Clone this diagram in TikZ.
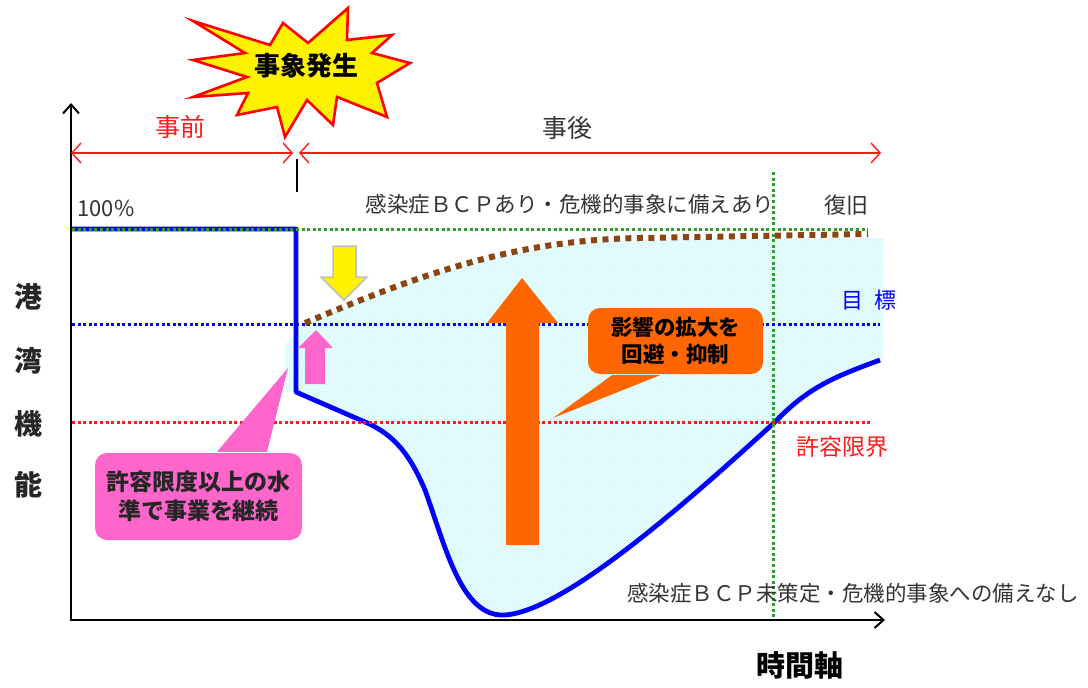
\documentclass[tikz,border=0pt]{standalone}
\usepackage{fontspec}
\setmainfont{Noto Sans CJK JP}
\usetikzlibrary{arrows.meta,patterns}
\definecolor{txtgray}{HTML}{333333}
\definecolor{dotgreen}{HTML}{2E9E2E}
\definecolor{bluel}{HTML}{0000FF}
\definecolor{redl}{HTML}{FF1A1A}
\definecolor{brownl}{HTML}{8B4513}
\definecolor{orangel}{HTML}{FF6600}
\definecolor{pinkl}{HTML}{FF66CC}
\definecolor{hatchbg}{HTML}{EEFFFF}
\definecolor{hatchfg}{HTML}{C8F4FA}
\begin{document}
\begin{tikzpicture}[x=1pt,y=-1pt,
  axisline/.style={line width=2.2pt,black,-{Straight Barb[length=9pt,width=16pt,line width=2pt]}},
  spanarrow/.style={line width=1.4pt,redl,{Straight Barb[length=9pt,width=20pt,line width=1.4pt]}-{Straight Barb[length=9pt,width=20pt,line width=1.4pt]}},
  dotline/.style={line width=3pt,dash pattern=on 3pt off 2.6pt},
  lbl/.style={inner sep=0pt,text=txtgray},
  callout/.style={rounded corners=12pt,inner sep=0pt,minimum width=#1},
]
\useasboundingbox (0,0) rectangle (1088,688);
\fill[white] (0,0) rectangle (1088,688);

% hatched region
\path[fill=hatchbg] (296,392) -- (365,422) .. controls (395,435) and (410,455) .. (425,490)
  .. controls (445,545) and (460,612) .. (500,615)
  .. controls (560,618) and (700,490) .. (775,422)
  .. controls (810,385) and (840,375) .. (883,359)
  -- (883,238) -- (640,240) .. controls (520,242) and (430,272) .. (305,323)
  -- (285,345) -- (285,390) -- cycle;
\path[pattern=north east lines,pattern color=hatchfg] (296,392) -- (365,422) .. controls (395,435) and (410,455) .. (425,490)
  .. controls (445,545) and (460,612) .. (500,615)
  .. controls (560,618) and (700,490) .. (775,422)
  .. controls (810,385) and (840,375) .. (883,359)
  -- (883,238) -- (640,240) .. controls (520,242) and (430,272) .. (305,323)
  -- (285,345) -- (285,390) -- cycle;

% coordinates
\coordinate (O) at (71,620);
\coordinate (ytop) at (71,103);
\coordinate (xend) at (885,620);
\coordinate (pa) at (71,153);
\coordinate (pb) at (293,153);
\coordinate (qa) at (299,153);
\coordinate (qb) at (881,153);
\coordinate (tk1) at (297,159);
\coordinate (tk2) at (297,192);

% blue curve (with plan)
\draw[bluel,line width=4.8pt,line join=round] (71,229) -- (296,229) -- (296,392) -- (365,422)
  .. controls (395,435) and (410,455) .. (425,490)
  .. controls (445,545) and (460,612) .. (500,615)
  .. controls (560,618) and (700,490) .. (775,422)
  .. controls (810,385) and (840,375) .. (880,360);

% dotted reference lines
\draw[dotline,dotgreen] (72,229) -- (868,229);
\draw[dotline,dotgreen] (773,172) -- (773,620);
\draw[dotline,bluel] (72,324) -- (880,324);
\draw[dotline,redl] (72,422) -- (870,422);

% brown dotted curve
\draw[brownl,line width=6pt,dash pattern=on 6pt off 5.5pt] (305,323) .. controls (430,270) and (520,240) .. (640,238) -- (868,234);

% axes
\draw[axisline] (O) -- (ytop);
\draw[axisline] ([xshift=-1.1pt]O) -- (xend);

% span arrows
\draw[spanarrow] (pa) -- (pb);
\draw[spanarrow] (qa) -- (qb);
\draw[black,line width=2.4pt] (tk1) -- (tk2);

% starburst
\draw[red,line width=2.6pt,fill=yellow,line join=miter]
 (193,21) -- (270,45) -- (283,23) -- (308,43) -- (348,8) -- (347,40) -- (392,35) -- (372,53)
 -- (410,63) -- (377,83) -- (387,117) -- (337,97) -- (333,125) -- (307,100) -- (285,137)
 -- (277,107) -- (237,115) -- (248,93) -- (193,97) -- (247,77) -- (193,60) -- (245,53) -- cycle;
\node[inner sep=0pt,font=\bfseries\fontsize{26}{30}\selectfont] (evt) at (306,66) {事象発生};

% yellow down arrow
\draw[fill=yellow,draw=black!25,line width=1.5pt,line join=miter]
 (333,246) -- (356,246) -- (356,277) -- (367,277) -- (344,300) -- (321,277) -- (333,277) -- cycle;
% pink up arrow
\fill[pinkl] (305,384) -- (325,384) -- (325,348) -- (333,348) -- (316,330) -- (298,348) -- (305,348) -- cycle;
% orange up arrow
\fill[orangel] (506,545) -- (539,545) -- (539,323) -- (558,323) -- (522,278) -- (487,323) -- (506,323) -- cycle;

% callouts
\node[callout=207pt,fill=pinkl,minimum height=87pt,align=center,
  font=\bfseries\fontsize{23}{29}\selectfont,text=black!85] (pinkbox) at (198.5,496.5)
  {許容限度以上の水\\準で事業を継続};
\coordinate (pinktip) at (288,368);
\fill[pinkl] ([xshift=18.5pt,yshift=1pt]pinkbox.north) -- (pinktip) -- ([xshift=68.5pt,yshift=1pt]pinkbox.north) -- cycle;

\node[callout=175pt,fill=orangel,minimum height=66pt,align=center,
  font=\bfseries\fontsize{21.5}{27}\selectfont,text=black] (orbox) at (675.5,341)
  {影響の拡大を\\回避・抑制};
\coordinate (ortip) at (553,418);
\fill[orangel] ([xshift=-63.5pt,yshift=-1pt]orbox.south) -- (ortip) -- ([xshift=-15.5pt,yshift=-1pt]orbox.south) -- cycle;

% labels
\node[lbl,text=redl,font=\fontsize{25}{28}\selectfont] (pre) at (180,127) {事前};
\node[lbl,font=\fontsize{25}{28}\selectfont] (post) at (567,128) {事後};
\node[lbl,font=\fontsize{22}{26}\selectfont] (pct) at (106,208) {100\%};
\node[lbl,font=\fontsize{21.5}{26}\selectfont] (bcp1) at (570,204) {感染症ＢＣＰあり・危機的事象に備えあり};
\node[lbl,font=\fontsize{22}{26}\selectfont] (fk) at (846,205) {復旧};
\node[lbl,text=bluel,font=\fontsize{22}{26}\selectfont] (goal) at (869,300) {目\hspace{12pt}標};
\node[lbl,text=redl,font=\fontsize{23}{26}\selectfont] (lim) at (842,447) {許容限界};
\node[lbl,font=\fontsize{21.5}{26}\selectfont] (bcp2) at (853,593) {感染症ＢＣＰ未策定・危機的事象への備えなし};
\node[inner sep=0pt,font=\bfseries\fontsize{29}{32}\selectfont] (tax) at (800,665) {時間軸};
\node[inner sep=0pt,font=\bfseries\fontsize{28}{30}\selectfont,text=black!85] (y1) at (28,297) {港};
\node[inner sep=0pt,font=\bfseries\fontsize{28}{30}\selectfont,text=black!85] (y2) at (28,361) {湾};
\node[inner sep=0pt,font=\bfseries\fontsize{28}{30}\selectfont,text=black!85] (y3) at (28,424) {機};
\node[inner sep=0pt,font=\bfseries\fontsize{28}{30}\selectfont,text=black!85] (y4) at (28,485) {能};
\end{tikzpicture}
\end{document}
